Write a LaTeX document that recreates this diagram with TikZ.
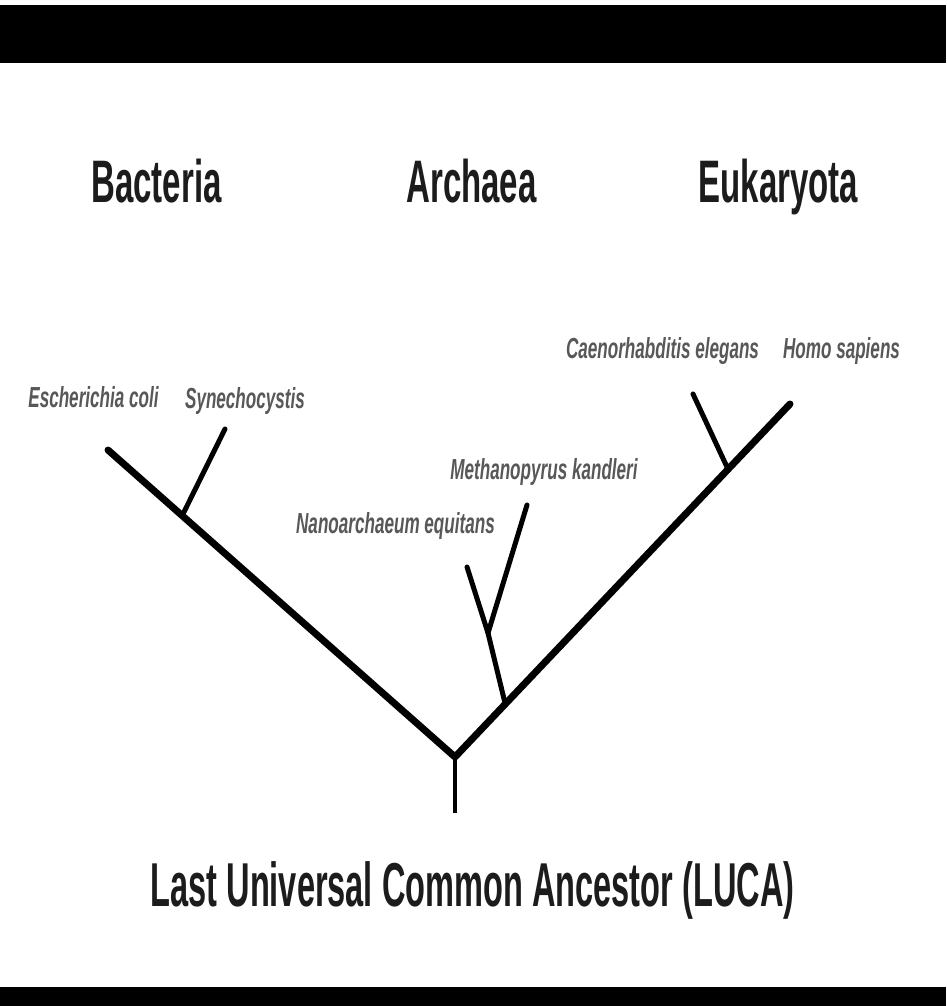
\documentclass[tikz,border=0pt]{standalone}
\usepackage{fontspec}
\setmainfont{Liberation Sans}
\newfontfamily\titlefont[FakeStretch=0.55]{Liberation Sans Bold}
\newfontfamily\lucafont[FakeStretch=0.525]{Liberation Sans Bold}
\newfontfamily\labfont[FakeStretch=0.59]{Liberation Sans Bold Italic}
\definecolor{labgray}{HTML}{585858}
\definecolor{titlegray}{HTML}{1C1C1C}
\tikzset{
  title/.style={inner sep=0pt, anchor=base, text=titlegray, font=\titlefont\fontsize{60}{64}\selectfont},
  lucatext/.style={inner sep=0pt, anchor=base, text=titlegray, font=\lucafont\fontsize{62}{66}\selectfont},
  species/.style={inner sep=0pt, anchor=base, text=labgray, font=\labfont\fontsize{29}{32}\selectfont},
  trunk/.style={line width=7pt, line cap=round, line join=round},
  twig/.style={line width=5pt, line cap=round, line join=round},
}
\begin{document}
\begin{tikzpicture}[x=1pt,y=-1pt]
\useasboundingbox (0,0) rectangle (946,1006);
\fill[white] (0,0) rectangle (946,1006);
\fill[black] (0,5) rectangle (946,63);
\fill[black] (0,987) rectangle (946,1006);

\node[title] (bac) at (156.5,202) {Bacteria};
\node[title] (arc) at (471.5,202) {Archaea};
\node[title] (euk) at (778.5,202) {Eukaryota};
\node[lucatext] (luca) at (472.5,906) {Last Universal Common Ancestor (LUCA)};

\node[species] (ecoli) at (93.5,407) {Escherichia coli};
\node[species] (syn) at (245,408) {Synechocystis};
\node[species] (meth) at (544,479) {Methanopyrus kandleri};
\node[species] (nano) at (395.5,533) {Nanoarchaeum equitans};
\node[species] (cel) at (662.5,358) {Caenorhabditis elegans};
\node[species] (homo) at (841.5,358) {Homo sapiens};

\coordinate (root) at (455,757);
\coordinate (base) at (455,813);
\coordinate (ltip) at (108,450);
\coordinate (sj) at (183,514);
\coordinate (stip) at (225,429);
\coordinate (rtip) at (790,404);
\coordinate (cj) at (727,467);
\coordinate (ctip) at (693,394);
\coordinate (aj) at (505,703);
\coordinate (aj2) at (488,633);
\coordinate (ntip) at (467,567);
\coordinate (mtip) at (527,505);

\draw[line width=4.5pt] (base) -- (root);
\draw[trunk] (ltip) -- (root) -- (rtip);
\draw[twig] (sj) -- (stip);
\draw[twig] (cj) -- (ctip);
\draw[twig] (aj) -- (aj2) -- (mtip);
\draw[twig] (aj2) -- (ntip);
\end{tikzpicture}
\end{document}
